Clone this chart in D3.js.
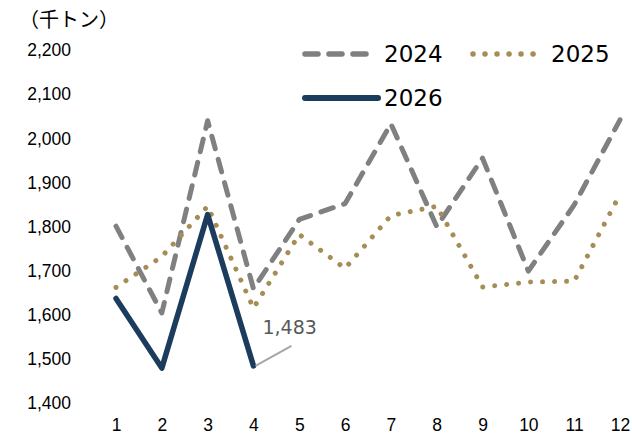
<!DOCTYPE html>
<html><head><meta charset="utf-8">
<script src="https://cdn.jsdelivr.net/npm/d3@7"></script>
<style>body{margin:0;background:#fff}svg{display:block}</style>
</head><body>
<script>
const months = [1,2,3,4,5,6,7,8,9,10,11,12];
const s2024 = [1800,1603,2039,1658,1815,1851,2032,1799,1954,1698,1848,2041];
const s2025 = [1661,1731,1845,1614,1781,1704,1824,1845,1662,1673,1675,1872];
const s2026 = [1636,1478,1826,1483];
const yTicks = [1400,1500,1600,1700,1800,1900,2000,2100,2200];
const seriesNames = ["2024","2025","2026"];
const yTitle = "（千トン）";
const annotationText = "1,483";

const W=632,H=438;
const svg=d3.select("body").append("svg").attr("width",W).attr("height",H);
const x=d3.scaleLinear().domain([1,12]).range([116,620]);
const y=d3.scaleLinear().domain([1400,2200]).range([402.5,49.7]);
const fmt=d3.format(",");

const yAxis=d3.axisLeft(y).tickValues(yTicks).tickFormat(fmt).tickSize(0).tickPadding(0);
const gy=svg.append("g").attr("transform","translate(71,0)").call(yAxis);
gy.select(".domain").remove();
gy.selectAll("text").attr("font-family","Liberation Sans, Arial, sans-serif").attr("font-size",17.5).attr("fill","#000").attr("dy","0.35em");

const xAxis=d3.axisBottom(x).tickValues(months).tickFormat(d=>d).tickSize(0).tickPadding(0);
const gx=svg.append("g").attr("transform","translate(0,425)").call(xAxis);
gx.select(".domain").remove();
gx.selectAll("text").attr("font-family","Liberation Sans, Arial, sans-serif").attr("font-size",17.5).attr("fill","#000").attr("dy","0.35em");

svg.append("text").attr("x",19).attr("y",20).attr("dy","0.36em")
  .attr("font-family","Noto Sans CJK JP, sans-serif").attr("font-size",20).attr("fill","#000").text(yTitle);

const line=d3.line().x((d,i)=>x(months[i])).y(d=>y(d));
const styles={
  "2024":{stroke:"#808080",w:5,dash:"13,11"},
  "2025":{stroke:"#A58D55",w:5,dash:"0.01,12"},
  "2026":{stroke:"#1C3C5E",w:5.5,dash:null}
};
[["2024",s2024],["2025",s2025],["2026",s2026]].forEach(([n,data])=>{
  const st=styles[n];
  svg.append("path").datum(data).attr("d",line).attr("fill","none")
    .attr("stroke",st.stroke).attr("stroke-width",st.w)
    .attr("stroke-linecap","round").attr("stroke-linejoin","round")
    .attr("stroke-dasharray",st.dash);
});

const lx=x(4), ly=y(s2026[3]);
svg.append("line").attr("x1",lx+2).attr("y1",ly).attr("x2",lx+38).attr("y2",ly-20)
  .attr("stroke","#A6A6A6").attr("stroke-width",2);
svg.append("text").attr("x",lx+9).attr("y",ly-32)
  .attr("font-family","DejaVu Sans, sans-serif").attr("font-size",19).attr("fill","#595959").text(annotationText);

const leg=[{n:"2024",x1:305,x2:372,y:54,tx:384},{n:"2025",x1:473,x2:537,y:54,tx:551},{n:"2026",x1:305,x2:378,y:98,tx:384}];
leg.forEach(l=>{
  const st=styles[l.n];
  svg.append("line").attr("x1",l.x1).attr("x2",l.x2).attr("y1",l.y).attr("y2",l.y)
    .attr("stroke",st.stroke).attr("stroke-width",st.w+0.5).attr("stroke-linecap","round")
    .attr("stroke-dasharray",st.dash);
  svg.append("text").attr("x",l.tx).attr("y",l.y).attr("dy","0.36em")
    .attr("font-family","DejaVu Sans, sans-serif").attr("font-size",23).attr("fill","#000").text(l.n);
});
</script>
</body></html>
